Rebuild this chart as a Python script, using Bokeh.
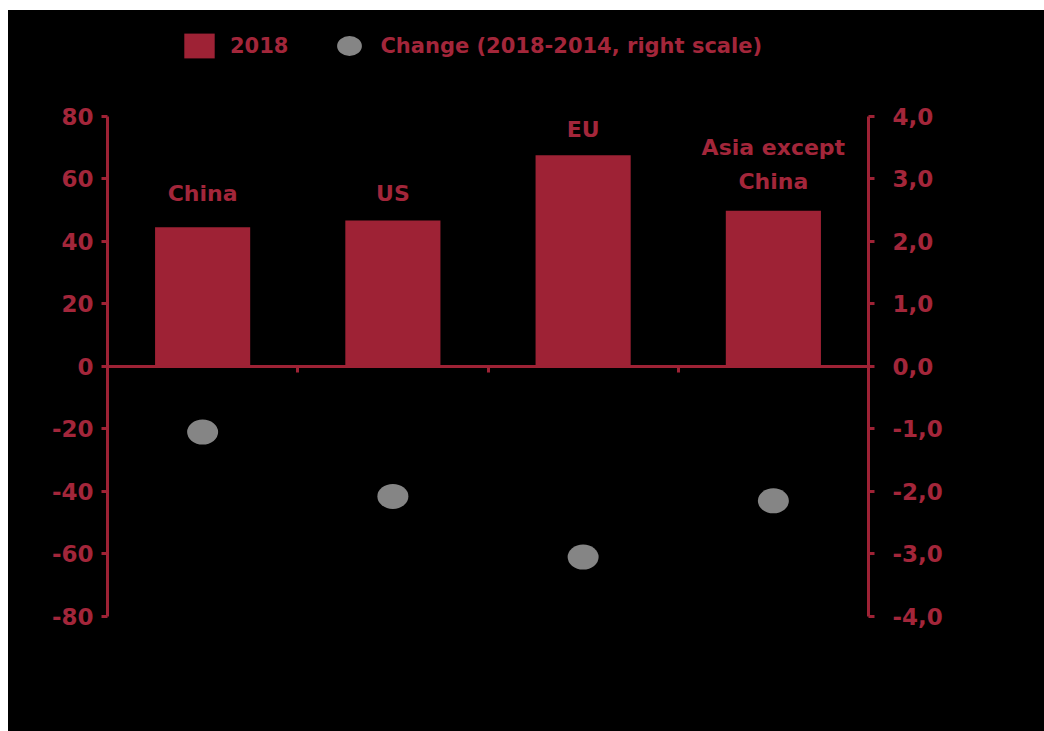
import numpy as np
from bokeh.plotting import figure
from bokeh.models import (Range1d, LinearAxis, FixedTicker, CustomJSTickFormatter,
                          Legend, LegendItem, ColumnDataSource)
from bokeh.core.properties import value
from bokeh.embed import file_html
from bokeh.resources import INLINE

# ---- data ----
categories = ["China", "US", "EU", "Asia except\nChina"]
values_2018 = [44.5, 46.7, 67.5, 49.8]
change_2018_2014 = [-1.05, -2.08, -3.05, -2.15]
left_ticks = [-80, -60, -40, -20, 0, 20, 40, 60, 80]
right_ticks = [-4, -3, -2, -1, 0, 1, 2, 3, 4]
label_heights = [55.4, 55.4, 75.8, 64.5]  # label centre (left scale)

RED = "#9E2235"
TXT = "#A3263A"
GREY = "#858585"
FONT = "DejaVu Sans"

x = np.arange(len(categories)) + 0.5
src = ColumnDataSource(dict(x=x, v=values_2018, c=change_2018_2014,
                            lab=categories, ly=label_heights))

# frame extends above the axes to host the legend; axes are bounded to +-80 / +-4
p = figure(width=1036, height=721, output_backend="svg", toolbar_location=None,
           x_range=Range1d(0, len(categories)), y_range=Range1d(-80, 110),
           x_axis_location=None, y_axis_location=None,
           background_fill_color="black", border_fill_color="black",
           outline_line_color=None,
           min_border_left=99, min_border_right=176,
           min_border_top=12, min_border_bottom=115)
p.margin = (10, 0, 0, 8)
p.styles = {"background-color": "black"}
p.grid.visible = False
p.extra_y_ranges = {"right": Range1d(-4, 5.5)}

bars = p.vbar(x="x", top="v", bottom=0, width=0.5, source=src,
              fill_color=RED, line_color=None)
dots = p.ellipse(x="x", y="c", width=31, height=25, width_units="screen",
                 height_units="screen", source=src, y_range_name="right",
                 fill_color=GREY, line_color=None)

p.text(x="x", y="ly", text="lab", source=src, text_align="center",
       text_baseline="middle", text_color=TXT, text_font=value(FONT),
       text_font_style="bold", text_font_size="22px", text_line_height=1.35)

def style_axis(ax, ticks, fmt, standoff, tick_out):
    ax.ticker = FixedTicker(ticks=ticks)
    ax.formatter = CustomJSTickFormatter(code=fmt)
    ax.axis_line_color = RED
    ax.axis_line_width = 3
    ax.major_tick_line_color = RED
    ax.major_tick_line_width = 3
    ax.major_tick_out = tick_out
    ax.major_tick_in = 0
    ax.minor_tick_line_color = None
    ax.major_label_text_color = TXT
    ax.major_label_text_font = FONT
    ax.major_label_text_font_style = "bold"
    ax.major_label_text_font_size = "23px"
    ax.major_label_standoff = standoff

yl = LinearAxis(bounds=(left_ticks[0], left_ticks[-1]))
style_axis(yl, left_ticks, "return tick.toFixed(0);", 8, 6)
p.add_layout(yl, "left")

yr = LinearAxis(y_range_name="right", bounds=(right_ticks[0], right_ticks[-1]))
style_axis(yr, right_ticks, "return tick.toFixed(1).replace('.', ',');", 18, 6)
p.add_layout(yr, "right")

xa = LinearAxis(fixed_location=0)
style_axis(xa, [1, 2, 3], "return '';", 0, 6)
xa.major_label_text_font_size = "0px"
p.add_layout(xa, "below")

legend = Legend(items=[LegendItem(label="2018", renderers=[bars]),
                       LegendItem(label="Change (2018-2014, right scale)", renderers=[dots])],
                orientation="horizontal", location=(73, 555),
                background_fill_alpha=0, border_line_color=None,
                label_text_color=TXT, label_text_font=FONT,
                label_text_font_style="bold", label_text_font_size="21px",
                glyph_width=38, glyph_height=31, spacing=42, label_standoff=12,
                padding=0, margin=0)
p.add_layout(legend, "center")

open("out.html", "w").write(file_html(p, INLINE))
